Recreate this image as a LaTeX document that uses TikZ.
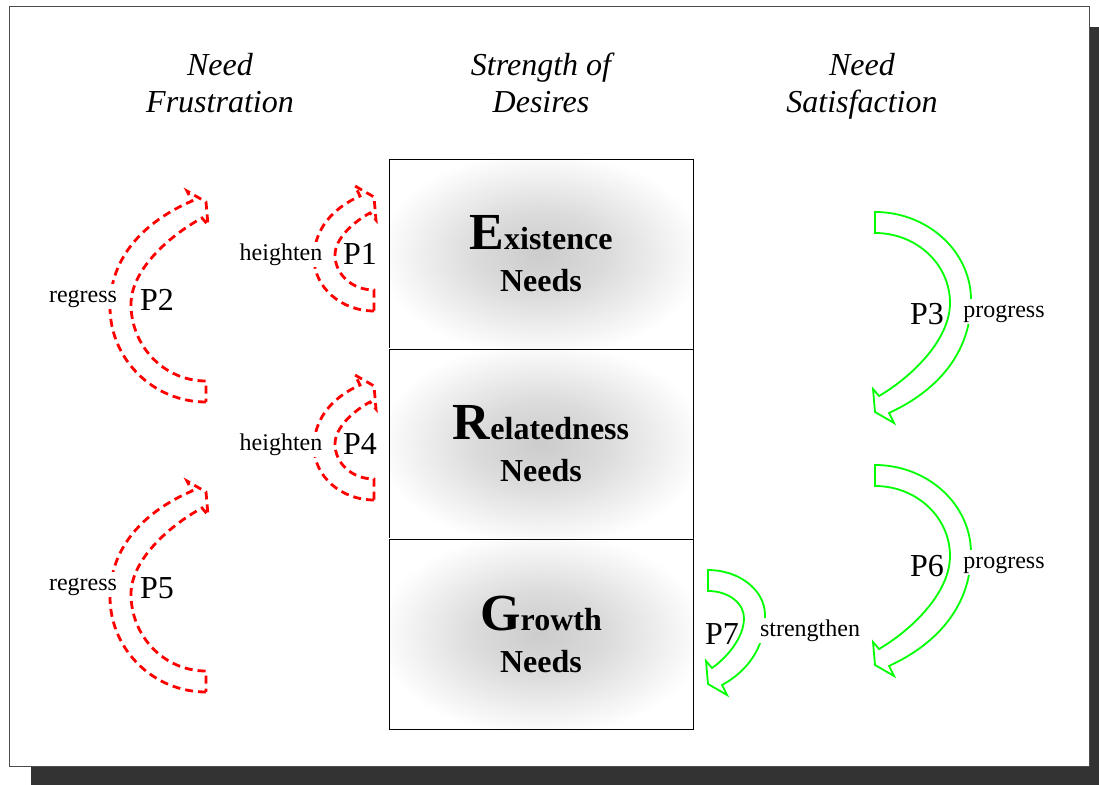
\documentclass[tikz,border=0pt]{standalone}
\usepackage{fontspec}
\setmainfont{Liberation Serif}
\pgfdeclareradialshading{needglow}{\pgfpoint{0bp}{0bp}}{color(0bp)=(black!20); color(11bp)=(black!14); color(27bp)=(white); color(50bp)=(white)}

\begin{document}
\begin{tikzpicture}[x=0.5pt,y=-0.5pt]
	% styles (coordinates are pixels, y grows downwards)
	\tikzset{
		frustr/.style={draw=red, fill=white, line width=1.4pt, dash pattern=on 4pt off 2.5pt},
		satisf/.style={draw=green, fill=white, line width=0.9pt},
		tag/.style={fill=white, inner sep=1pt, text height=8pt, text depth=2.5pt, font=\fontsize{12}{12}\selectfont},
		pnum/.style={inner sep=1pt, font=\fontsize{16}{16}\selectfont},
		heading/.style={align=center, text depth=0pt, font=\fontsize{16}{18.5}\selectfont\itshape},
		needbox/.style={draw, minimum width=152pt, minimum height=95pt, shading=needglow,
			align=center, font=\fontsize{16}{21}\selectfont\bfseries},
		pics/bentarrow/.style n args={3}{code={
			% #1 bulge width, #2 height, #3 depth of the bulge
			\pgfmathsetmacro\bw{#1}
			\pgfmathsetmacro\bh{#2}
			\pgfmathsetmacro\bd{#3}
			\pgfmathsetmacro\bo{\bh-10-\bd}
			\pgfmathsetmacro\bi{\bh-30-\bd}
			\path[pic actions] (0,0) .. controls (0.55*\bw,0) and (\bw,0.45*\bd) .. (\bw,\bd)
				.. controls (\bw,\bd+0.46*\bo) and (14+0.6*\bw-8.4,\bh-10-0.2*\bo) .. (14,\bh-10)
				-- (19,\bh) -- (0,\bh-11) -- (-2,\bh-34) -- (4,\bh-27)
				.. controls (4+0.45*\bw-11.25,\bh-27-0.2*\bi) and (\bw-21,\bd+3+0.4*\bi) .. (\bw-21,\bd+3)
				.. controls (\bw-21,12.9+0.45*\bd) and (0.55*\bw-11,21) .. (0,21) -- cycle;
		}}
	}
	\useasboundingbox (0,0) rectangle (1099,785);
	
	% frame with its shadow
	\fill[black!80] (31,27) rectangle (1099,785);
	\draw[fill=white, draw=black!70, line width=0.5pt] (9,7) rectangle (1089,767);
	
	% column headings
	\node[heading] (hfrus) at (220,83) {Need\\Frustration};
	\node[heading] (hdes) at (541,83) {Strength of\\Desires};
	\node[heading] (hsat) at (862,83) {Need\\Satisfaction};
	
	% the three needs
	\foreach \nm/\initial/\rest/\y in {exist/E/xistence/254, relate/R/elatedness/444, grow/G/rowth/634} {
		\node[needbox] (\nm) at (541,\y) {{\fontsize{26}{26}\selectfont\initial}\rest\\Needs};
	}
	
	% frustration arrows
	\pic[frustr, rotate=180] (p2) at (206,402) {bentarrow={96}{211}{95}};
	\pic[frustr, rotate=180] (p5) at (206,692) {bentarrow={96}{211}{95}};
	\pic[frustr, rotate=180] (p1) at (374,311) {bentarrow={60}{125}{53}};
	\pic[frustr, rotate=180] (p4) at (374,500) {bentarrow={60}{125}{53}};
	
	% satisfaction arrows
	\pic[satisf] (p3) at (875,212) {bentarrow={96}{211}{88}};
	\pic[satisf] (p6) at (875,465) {bentarrow={96}{211}{88}};
	\pic[satisf] (p7) at (708,570) {bentarrow={57}{125}{45}};
	
	% labels
	\node[tag] (lreg1) at (83,297) {regress};
	\node[pnum] (lp2) at (157,300) {P2};
	\node[tag] (lhei1) at (281,255) {heighten};
	\node[pnum] (lp1) at (360,254) {P1};
	\node[tag] (lhei2) at (281,445) {heighten};
	\node[pnum] (lp4) at (360,444) {P4};
	\node[tag] (lreg2) at (83,585) {regress};
	\node[pnum] (lp5) at (157,588) {P5};
	\node[pnum] (lp3) at (927,314) {P3};
	\node[tag] (lpro1) at (1004,312) {progress};
	\node[pnum] (lp6) at (927,566) {P6};
	\node[tag] (lpro2) at (1004,563) {progress};
	\node[pnum] (lp7) at (722,634) {P7};
	\node[tag] (lstr) at (810,631) {strengthen};
\end{tikzpicture}
\end{document}
